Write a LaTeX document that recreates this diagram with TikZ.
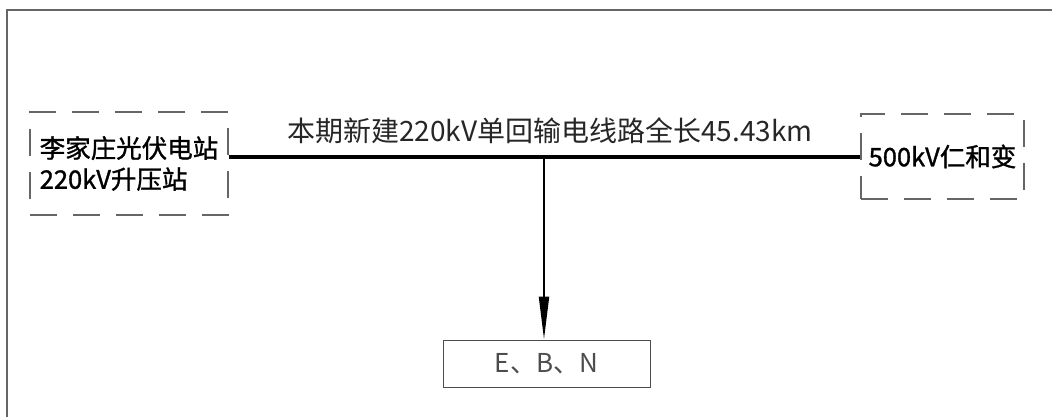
\documentclass[tikz,border=0pt]{standalone}
\usepackage{fontspec}
\newfontfamily\cjk{Noto Sans CJK SC}
\newfontfamily\cjkbold{Noto Sans CJK SC}[FakeBold=1.2]
\usetikzlibrary{arrows.meta}
\begin{document}
\begin{tikzpicture}[x=1pt,y=-1pt,
  frame/.style={draw=black!60, line width=1.6pt},
  dbox/.style={draw=black!60, line width=1.3pt, dash pattern=on 27pt off 16pt, inner sep=0pt},
  boxtext/.style={font=\cjkbold\fontsize{25.5}{31}\selectfont, text=black},
  titletext/.style={font=\cjk\fontsize{28}{32}\selectfont, text=black!85, inner sep=0pt},
  busline/.style={line width=3.2pt},
  feed/.style={line width=2pt, -{Triangle[length=43pt,width=10pt]}},
  thinbox/.style={draw=black!70, line width=1pt, inner sep=0pt, minimum width=207pt, minimum height=47pt, font=\cjk\fontsize{26}{30}\selectfont, text=black!70}
]
\useasboundingbox (0,0) rectangle (1052,417);
\draw[frame] (7,417) -- (7,10) -- (1052,10);
\node[dbox, boxtext, minimum width=198pt, minimum height=103pt, align=left] (left) at (129,163.5) {李家庄光伏电站\\220kV升压站};
\node[dbox, boxtext, minimum width=163pt, minimum height=85pt] (right) at (942.5,156.5) {500kV仁和变};
\node[titletext] (title) at (550,131) {本期新建220kV单回输电线路全长45.43km};
\coordinate (J) at (544,157);
\node[thinbox] (ebn) at (546.5,363.5) {E、B、N};
\draw[busline] (left.east |- J) -- (right.west |- J);
\draw[feed] (J) -- (J |- ebn.north);
\end{tikzpicture}
\end{document}
